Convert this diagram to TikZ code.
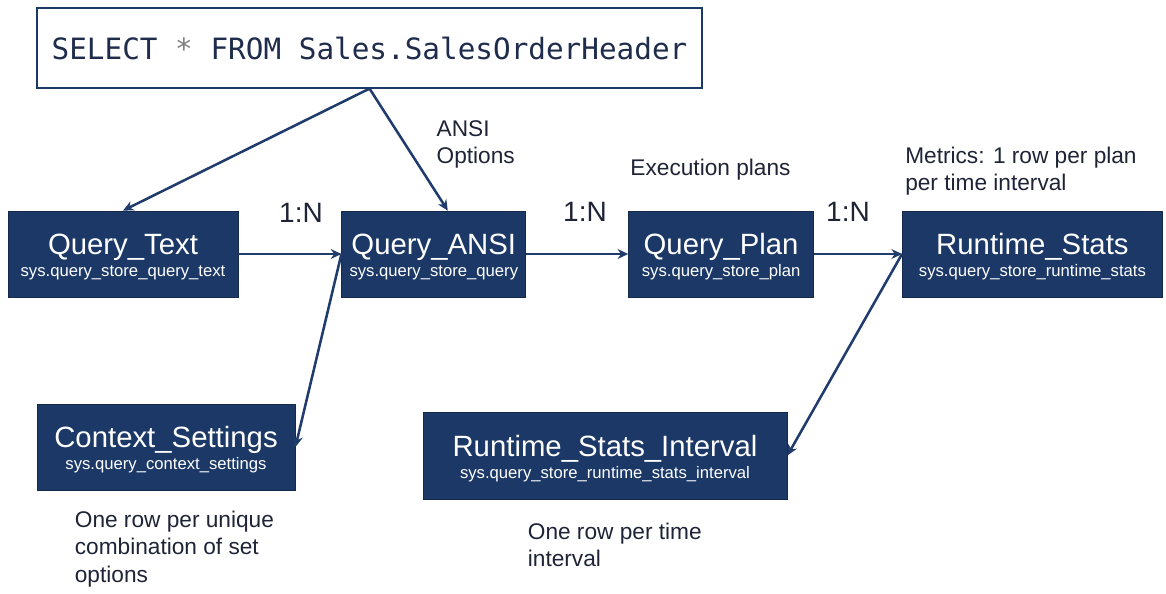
\documentclass[tikz,border=0pt]{standalone}
\usepackage{fontspec}
\setmainfont{Liberation Sans}
\newfontfamily\sqlfont{DejaVu Sans Mono}
\usetikzlibrary{arrows.meta,positioning}
\definecolor{Ink}{HTML}{1E2336}
\definecolor{TableColor}{HTML}{1B3867}
\definecolor{FlowColor}{HTML}{203C6C}
\definecolor{QueryInk}{HTML}{1F2C4C}
\tikzset{
  table flow/.style={-{Stealth[length=2.8mm,width=2.6mm]}, draw=FlowColor, line width=1.9pt},
  table box/.style={draw=TableColor!75!black, fill=TableColor, text=white,
    align=center, inner sep=0pt, line width=0.6pt, minimum height=64.5pt,
    font=\fontsize{22}{16.5}\selectfont},
  query box/.style={draw=TableColor, fill=white, line width=0.9pt, inner sep=0pt,
    minimum width=498.75pt, minimum height=60pt, text=QueryInk,
    font=\sqlfont\fontsize{22}{24}\selectfont},
  note/.style={font=\fontsize{17}{20.3}\selectfont, text=Ink, align=left,
    inner sep=0pt, anchor=west},
  ratio/.style={font=\fontsize{21}{24}\selectfont, text=Ink, inner sep=0pt},
}
\newcommand{\viewtitle}[1]{\rule{0pt}{20.5pt}#1}
\newcommand{\viewname}[1]{{\fontsize{12.5}{16.5}\selectfont #1}}

\begin{document}
\begin{tikzpicture}[x=0.75pt, y=0.75pt]
  \useasboundingbox (0,0) rectangle (1166,-593);

  % The query that starts it all.
  \node[query box] (sql) at (369.5,-48)
    {SELECT {\color{gray}*} FROM Sales.SalesOrderHeader};

  % Main row of catalog views.
  \node[table box, minimum width=172.5pt] (qtext) at (123,-254)
    {\viewtitle{Query\_Text}\\\viewname{sys.query\_store\_query\_text}};
  \node[table box, minimum width=138pt, right=77.25pt of qtext] (ansi)
    {\viewtitle{Query\_ANSI}\\\viewname{sys.query\_store\_query}};
  \node[table box, minimum width=138.75pt, right=76.5pt of ansi] (plan)
    {\viewtitle{Query\_Plan}\\\viewname{sys.query\_store\_plan}};
  \node[table box, minimum width=195pt, right=66pt of plan] (stats)
    {\viewtitle{Runtime\_Stats}\\\viewname{sys.query\_store\_runtime\_stats}};

  % Side views.
  \node[table box, minimum width=193.5pt] (ctx) at (166,-447)
    {\viewtitle{Context\_Settings}\\\viewname{sys.query\_context\_settings}};
  \node[table box, minimum width=273pt, minimum height=65.25pt] (interval) at (605,-455.5)
    {\viewtitle{Runtime\_Stats\_Interval}\\\viewname{sys.query\_store\_runtime\_stats\_interval}};

  % Cardinalities.
  \node[ratio] (ratioText) at (301,-213) {1:N};
  \node[ratio] (ratioAnsi) at (585,-212) {1:N};
  \node[ratio] (ratioPlan) at (848,-212) {1:N};

  % Notes.
  \node[note] (ansiNote) at ([xshift=71.25pt,yshift=49.5pt]ansi.north west) {ANSI\\Options};
  \node[note] (planNote) at ([xshift=1.5pt,yshift=30.75pt]plan.north west) {Execution plans};
  \node[note] (statsNote) at ([xshift=2.25pt,yshift=29.25pt]stats.north west)
    {Metrics: 1 row per plan\\per time interval};
  \node[note] (ctxNote) at ([xshift=28.5pt,yshift=-44pt]ctx.south west)
    {One row per unique\\combination of set\\options};
  \node[note] (intervalNote) at ([xshift=78.75pt,yshift=-34pt]interval.south west)
    {One row per time\\interval};

  % Links.
  \draw[table flow] (sql.south) -- (qtext.north);
  \draw[table flow] (sql.south) -- ([xshift=10.5pt]ansi.north);
  \draw[table flow] (qtext.east) -- (ansi.west);
  \draw[table flow] (ansi.west) -- (ctx.east);
  \draw[table flow] (ansi.east) -- (plan.west);
  \draw[table flow] (plan.east) -- (stats.west);
  \draw[table flow] (stats.west) -- (interval.east);
\end{tikzpicture}
\end{document}
